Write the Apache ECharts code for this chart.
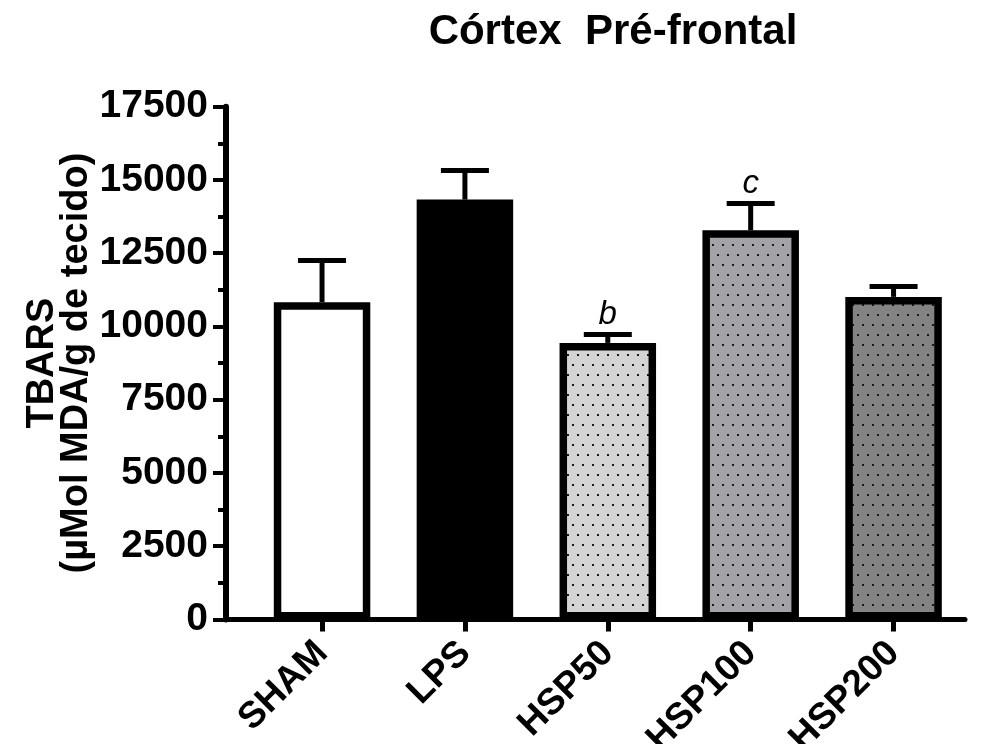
<!DOCTYPE html>
<html>
<head>
<meta charset="utf-8">
<script src="https://cdn.jsdelivr.net/npm/echarts@6/dist/echarts.min.js"></script>
<style>
  html, body { margin: 0; padding: 0; background: #fff; }
  #chart { width: 983px; height: 744px; }
</style>
</head>
<body>
<div id="chart"></div>
<script>
// data
const categories = ['SHAM', 'LPS', 'HSP50', 'HSP100', 'HSP200']
const means = [10830, 14330, 9440, 13280, 11010]
const sems = [1420, 990, 290, 920, 350]
const sigLabels = ['', '', 'b', 'c', '']
const yMin = 0
const yMax = 17500
const yStep = 2500

const font = '"Liberation Sans", Arial, sans-serif'

// bar fills (GraphPad style)
const barColors = ['#ffffff', '#000000', '#d4d4d4', '#a2a2a7', '#838383']
const barDots = [false, false, true, true, true]

function dotPattern(bg) {
  const c = document.createElement('canvas')
  c.width = 10
  c.height = 20
  const ctx = c.getContext('2d')
  ctx.fillStyle = bg
  ctx.fillRect(0, 0, 10, 20)
  ctx.fillStyle = '#1a1a1a'
  ctx.fillRect(2, 4, 2, 2)
  ctx.fillRect(7, 14, 2, 2)
  return { image: c, repeat: 'repeat' }
}

const gridTop = 106.7
const gridBottom = 744 - 619.5

const chart = echarts.init(document.getElementById('chart'))

const options = {
  animation: false,
  title: {
    text: 'Córtex  Pré-frontal',
    left: 608,
    top: 6,
    textAlign: 'center',
    textStyle: { fontFamily: font, fontWeight: 'bold', fontSize: 42, color: '#000' }
  },
  grid: [
    // bars
    { left: 250.6, right: 18, top: gridTop, bottom: gridBottom, outerBoundsMode: 'none' },
    // axes frame
    { left: 226, right: 18, top: gridTop, bottom: gridBottom, outerBoundsMode: 'none' }
  ],
  xAxis: [
    {
      type: 'category',
      gridIndex: 0,
      data: categories,
      axisLine: { show: false },
      axisTick: {
        show: true,
        alignWithLabel: true,
        length: 12,
        lineStyle: { color: '#000', width: 5 }
      },
      axisLabel: {
        rotate: 45,
        margin: 28,
        color: '#000',
        fontFamily: font,
        fontWeight: 'bold',
        fontSize: 37
      },
      splitLine: { show: false }
    },
    {
      type: 'value',
      gridIndex: 1,
      min: 0,
      max: 1,
      axisLine: { show: true, lineStyle: { color: '#000', width: 5 } },
      axisTick: { show: false },
      axisLabel: { show: false },
      splitLine: { show: false }
    }
  ],
  yAxis: [
    {
      type: 'value',
      gridIndex: 0,
      min: yMin,
      max: yMax,
      interval: yStep,
      show: false
    },
    {
      type: 'value',
      gridIndex: 1,
      min: yMin,
      max: yMax,
      interval: yStep,
      name: 'TBARS\n(µMol MDA/g de tecido)',
      nameLocation: 'middle',
      nameGap: 132,
      nameMoveOverlap: false,
      nameTextStyle: {
        fontFamily: font,
        fontWeight: 'bold',
        fontSize: 38,
        lineHeight: 34,
        color: '#000'
      },
      axisLine: { show: true, lineStyle: { color: '#000', width: 6 } },
      axisTick: { show: true, length: 13, lineStyle: { color: '#000', width: 4 } },
      minorTick: { show: true, splitNumber: 2, length: 8, lineStyle: { color: '#000', width: 4 } },
      axisLabel: {
        margin: 18,
        color: '#000',
        fontFamily: font,
        fontWeight: 'bold',
        fontSize: 39,
        formatter: v => String(v)
      },
      splitLine: { show: false }
    }
  ],
  series: [
    {
      type: 'custom',
      xAxisIndex: 0,
      yAxisIndex: 0,
      z: 1,
      data: categories.map((c, i) => [i, means[i], sems[i]]),
      renderItem: function (params, api) {
        const i = api.value(0)
        const base = api.coord([i, api.value(1)])
        const tip = api.coord([i, api.value(1) + api.value(2)])
        const half = 24
        const children = [
          {
            type: 'line',
            shape: { x1: base[0], y1: base[1], x2: tip[0], y2: tip[1] },
            style: { stroke: '#000', lineWidth: 5 }
          },
          {
            type: 'line',
            shape: { x1: tip[0] - half, y1: tip[1], x2: tip[0] + half, y2: tip[1] },
            style: { stroke: '#000', lineWidth: 5 }
          }
        ]
        if (sigLabels[i]) {
          children.push({
            type: 'text',
            style: {
              text: sigLabels[i],
              x: tip[0],
              y: tip[1] - 3,
              align: 'center',
              verticalAlign: 'bottom',
              fontFamily: font,
              fontStyle: 'italic',
              fontSize: 33,
              fill: '#000'
            }
          })
        }
        return { type: 'group', children: children }
      }
    },
    {
      type: 'bar',
      xAxisIndex: 0,
      yAxisIndex: 0,
      z: 2,
      barWidth: 96.5,
      data: means.map((v, i) => ({
        value: v,
        itemStyle: {
          color: barDots[i] ? dotPattern(barColors[i]) : barColors[i],
          borderColor: '#000',
          borderWidth: 7.5
        }
      }))
    }
  ]
}

chart.setOption(options)
window.addEventListener('resize', () => {
  chart.resize()
})
</script>
</body>
</html>
